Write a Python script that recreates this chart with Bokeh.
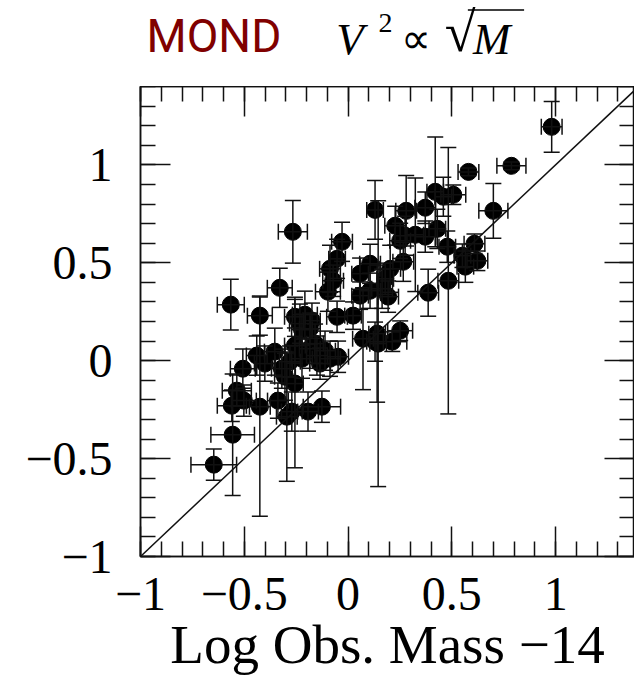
from bokeh.plotting import figure
from bokeh.models import (ColumnDataSource, Whisker, TeeHead, Slope, LinearAxis,
                          SingleIntervalTicker, CustomJSTickFormatter, Range1d)
from bokeh.layouts import column
from bokeh.embed import file_html
from bokeh.resources import INLINE
from bokeh.core.properties import value

# Log observed mass - 14 (x) and log of the MOND-predicted quantity (y)
log_mass = [0.981, 0.787, 0.580, 0.700, 0.420, 0.459, 0.507, 0.130, 0.280, 0.372,
            0.227, 0.430, 0.275, 0.324, 0.372, 0.251, 0.478, 0.609, 0.551, 0.623,
            0.565, 0.483, 0.386, 0.266, 0.203, 0.179, 0.106, 0.058, 0.106, 0.164,
            0.058, 0.193, -0.029, -0.053, -0.087, -0.072, -0.097, -0.266, -0.329, -0.565,
            -0.425, -0.256, -0.208, -0.232, -0.174, -0.222, -0.053, 0.024, 0.072, 0.130,
            0.140, 0.145, 0.251, 0.213, -0.440, -0.353, -0.507, -0.401, -0.319, -0.280,
            -0.304, -0.256, -0.222, -0.256, -0.150, -0.087, -0.184, -0.135, -0.536, -0.502,
            -0.560, -0.425, -0.338, -0.271, -0.295, -0.193, -0.126, -0.556, -0.647, -0.111,
            -0.048, -0.159, -0.184]
log_v = [1.194, 0.995, 0.964, 0.765, 0.862, 0.837, 0.847, 0.770, 0.765, 0.781,
         0.689, 0.673, 0.638, 0.643, 0.633, 0.612, 0.582, 0.597, 0.536, 0.510,
         0.480, 0.408, 0.347, 0.505, 0.469, 0.418, 0.495, 0.444, 0.357, 0.367,
         0.332, 0.327, 0.607, 0.520, 0.469, 0.408, 0.352, 0.658, 0.372, 0.286,
         0.230, 0.224, 0.235, 0.189, 0.204, 0.158, 0.224, 0.230, 0.112, 0.097,
         0.138, 0.087, 0.153, 0.097, 0.026, 0.046, -0.041, -0.015, -0.041, -0.005,
         -0.082, -0.117, 0.010, 0.077, 0.026, 0.010, 0.061, -0.015, -0.153, -0.204,
         -0.230, -0.235, -0.204, -0.260, -0.286, -0.260, -0.235, -0.378, -0.531, 0.051,
         0.020, 0.087, 0.163]
mass_err = [0.05, 0.07, 0.05, 0.07, 0.04, 0.04, 0.06, 0.04, 0.05, 0.05,
            0.05, 0.04, 0.05, 0.04, 0.05, 0.05, 0.04, 0.05, 0.04, 0.05,
            0.04, 0.05, 0.05, 0.05, 0.05, 0.04, 0.05, 0.04, 0.05, 0.05,
            0.04, 0.05, 0.05, 0.04, 0.05, 0.05, 0.06, 0.07, 0.06, 0.065,
            0.06, 0.05, 0.06, 0.05, 0.04, 0.05, 0.05, 0.04, 0.05, 0.04,
            0.04, 0.04, 0.06, 0.07, 0.05, 0.05, 0.06, 0.05, 0.05, 0.05,
            0.05, 0.04, 0.05, 0.05, 0.05, 0.05, 0.05, 0.05, 0.07, 0.06,
            0.07, 0.05, 0.05, 0.05, 0.05, 0.05, 0.09, 0.105, 0.11, 0.05,
            0.05, 0.04, 0.05]
v_err = [0.13, 0.02, 0.02, 0.14, 0.28, 0.10, 0.05, 0.15, 0.18, 0.08,
         0.10, 0.10, 0.10, 0.29, 0.08, 0.09, 0.08, 0.05, 0.06, 0.05,
         0.08, 0.68, 0.12, 0.10, 0.12, 0.08, 0.10, 0.08, 0.09, 0.10,
         0.07, 0.08, 0.10, 0.10, 0.12, 0.08, 0.10, 0.16, 0.10, 0.13,
         0.10, 0.10, 0.12, 0.10, 0.09, 0.08, 0.08, 0.07, 0.26, 0.10,
         0.35, 0.73, 0.05, 0.05, 0.10, 0.12, 0.10, 0.09, 0.10, 0.08,
         0.12, 0.43, 0.10, 0.09, 0.10, 0.09, 0.10, 0.08, 0.08, 0.08,
         0.08, 0.56, 0.09, 0.10, 0.33, 0.10, 0.08, 0.31, 0.08, 0.10,
         0.08, 0.10, 0.08]

src = ColumnDataSource(dict(
    x=log_mass, y=log_v,
    xl=[a - e for a, e in zip(log_mass, mass_err)],
    xu=[a + e for a, e in zip(log_mass, mass_err)],
    yl=[a - e for a, e in zip(log_v, v_err)],
    yu=[a + e for a, e in zip(log_v, v_err)],
))

SERIF = "Liberation Serif"
INK = "#111111"

x_range = Range1d(-1, 1.38)

# ---------- main plot ----------
p = figure(width=634, height=591, x_range=x_range, y_range=Range1d(-1, 1.4),
           output_backend="svg", toolbar_location=None,
           x_axis_location=None, y_axis_location=None,
           min_border_left=140, min_border_right=0, min_border_top=0, min_border_bottom=120,
           outline_line_color=INK, outline_line_width=1.5,
           background_fill_color="white", border_fill_color="white")
p.xgrid.visible = False
p.ygrid.visible = False

fmt = CustomJSTickFormatter(code="""
const a = Math.round(Math.abs(tick) * 10) / 10;
const s = a.toString();
return tick < -1e-9 ? '\u2212' + s : s;
""")
blank = CustomJSTickFormatter(code="return '';")


def make_axis(labels, standoff=0, axis_label=None):
    ax = LinearAxis(
        ticker=SingleIntervalTicker(interval=0.5, num_minor_ticks=5),
        formatter=fmt if labels else blank,
        major_tick_in=30, major_tick_out=0, minor_tick_in=15, minor_tick_out=0,
        axis_line_color=INK, axis_line_width=1.5,
        major_tick_line_color=INK, major_tick_line_width=1.5,
        minor_tick_line_color=INK, minor_tick_line_width=1.5,
        major_label_text_font=SERIF,
        major_label_text_font_size="48px" if labels else "1px",
        major_label_text_color="black",
        major_label_standoff=standoff,
    )
    if axis_label:
        ax.axis_label = axis_label
        ax.axis_label_text_font = SERIF
        ax.axis_label_text_font_size = "55px"
        ax.axis_label_text_font_style = "normal"
        ax.axis_label_text_color = "black"
        ax.axis_label_standoff = 1
    return ax


p.add_layout(make_axis(True, 21, "Log Obs. Mass \u221214"), "below")
p.add_layout(make_axis(True, 28), "left")
p.add_layout(make_axis(False), "above")
p.add_layout(make_axis(False), "right")

p.add_layout(Slope(gradient=1, y_intercept=0, line_color=INK, line_width=1.5))

vbars = Whisker(source=src, base="x", lower="yl", upper="yu", dimension="height",
                line_color=INK, line_width=1.5, level="glyph",
                upper_head=TeeHead(size=16, line_color=INK, line_width=1.5),
                lower_head=TeeHead(size=16, line_color=INK, line_width=1.5))
hbars = Whisker(source=src, base="y", lower="xl", upper="xu", dimension="width",
                line_color=INK, line_width=1.5, level="glyph",
                upper_head=TeeHead(size=16, line_color=INK, line_width=1.5),
                lower_head=TeeHead(size=16, line_color=INK, line_width=1.5))
p.add_layout(vbars)
p.add_layout(hbars)

p.scatter("x", "y", source=src, size=17, fill_color="black", line_color="black")

# ---------- title strip (its frame is aligned with the plot frame) ----------
t = figure(width=634, height=86, x_range=x_range, y_range=Range1d(86, 0),
           output_backend="svg", toolbar_location=None,
           x_axis_location=None, y_axis_location=None,
           min_border=0, outline_line_color=None,
           background_fill_color="white", border_fill_color="white")
t.xgrid.visible = False
t.ygrid.visible = False


def hx(px):
    # horizontal position in the strip, given in page pixels
    return -1 + (px - 140) / 206.7


t.text(x=[hx(146)], y=[35], text=["MOND"], text_color="#800000",
       text_font=value("Roboto"),
       text_font_size="46px", text_baseline="middle", text_align="left")
t.text(x=[hx(335)], y=[38], text=["V"], text_color="black", text_font=value(SERIF),
       text_font_style="italic", text_font_size="45px", text_baseline="middle")
t.text(x=[hx(377)], y=[22], text=["2"], text_color="black", text_font=value(SERIF),
       text_font_size="28px", text_baseline="middle")
t.text(x=[hx(399)], y=[38], text=["\u221d"], text_color="black", text_font=value(SERIF),
       text_font_size="42px", text_baseline="middle")
t.text(x=[hx(443)], y=[31], text=["\u221a"], text_color="black", text_font=value(SERIF),
       text_font_size="56px", text_baseline="middle")
t.segment(x0=[hx(466)], y0=[9.5], x1=[hx(522)], y1=[9.5], line_color="black", line_width=1.5)
t.text(x=[hx(471)], y=[38], text=["M"], text_color="black", text_font=value(SERIF),
       text_font_style="italic", text_font_size="45px", text_baseline="middle")

layout = column(t, p, spacing=0)
open("out.html", "w").write(file_html(layout, INLINE))
